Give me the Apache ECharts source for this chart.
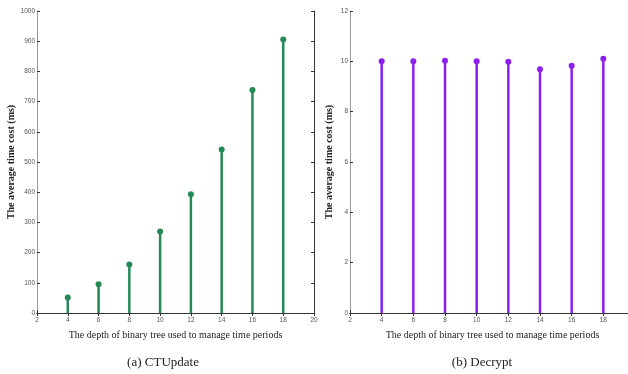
<!DOCTYPE html>
<html><head><meta charset="utf-8">
<script src="https://cdn.jsdelivr.net/npm/echarts@6/dist/echarts.min.js"></script>
<style>html,body{margin:0;padding:0;background:#fff}#c{width:628px;height:374px}</style>
</head><body><div id="c"></div>
<script>
const depths = [4, 6, 8, 10, 12, 14, 16, 18];
const ctUpdate = [51, 95, 161, 270, 393, 541, 738, 906];
const decrypt = [10.0, 10.0, 10.02, 10.0, 9.98, 9.69, 9.82, 10.1];
const xTitle = 'The depth of binary tree used to manage time periods';
const yTitle = 'The average time cost (ms)';
const captions = ['(a) CTUpdate', '(b) Decrypt'];

const green = '#238a55', purple = '#8a1ff0';
const serif = 'Liberation Serif';
const tickLbl = {fontSize: 6.5, color: '#555', fontFamily: 'Liberation Sans', formatter: v => String(v)};

function xAx(gi) {
  return {type: 'value', gridIndex: gi, min: 2, max: 20, interval: 2,
    position: 'bottom',
    axisLine: {show: true, onZero: false, lineStyle: {color: '#111', width: 1}},
    axisTick: {show: true, inside: true, length: 3, lineStyle: {color: '#333'}},
    axisLabel: Object.assign({margin: 4}, tickLbl),
    splitLine: {show: false},
    name: xTitle, nameLocation: 'middle', nameGap: 17,
    nameTextStyle: {fontFamily: serif, fontSize: 10, color: '#222'}};
}
function xTop(gi) {
  return {type: 'value', gridIndex: gi, min: 2, max: 20, interval: 2, position: 'top',
    axisLine: {show: true, lineStyle: {color: '#333'}},
    axisTick: {show: true, inside: true, length: 3, lineStyle: {color: '#333'}},
    axisLabel: {show: false}, splitLine: {show: false}};
}
function yAx(gi, max, interval) {
  return {type: 'value', gridIndex: gi, min: 0, max: max, interval: interval,
    axisLine: {show: true, lineStyle: {color: '#999'}},
    axisTick: {show: true, inside: true, length: 3, lineStyle: {color: '#333'}},
    axisLabel: Object.assign({margin: 2}, tickLbl),
    splitLine: {show: false},
    name: yTitle, nameLocation: 'middle', nameGap: 16,
    nameTextStyle: {fontFamily: serif, fontSize: 10, fontWeight: 'bold', color: '#222'}};
}
function yRight(gi, max, interval) {
  return {type: 'value', gridIndex: gi, min: 0, max: max, interval: interval, position: 'right',
    axisLine: {show: true, lineStyle: {color: '#333'}},
    axisTick: {show: true, inside: true, length: 3, lineStyle: {color: '#333'}},
    axisLabel: {show: false}, splitLine: {show: false}};
}
const pairs = (ys) => depths.map((d, i) => [d, ys[i]]);

const chart = echarts.init(document.getElementById('c'));
chart.setOption({
  animation: false,
  grid: [
    {left: 37, width: 277, top: 11, height: 302, outerBoundsMode: 'none', containLabel: false},
    {left: 350, width: 285, top: 11, height: 302, outerBoundsMode: 'none', containLabel: false}
  ],
  xAxis: [xAx(0), xAx(1), xTop(0), xTop(1)],
  yAxis: [yAx(0, 1000, 100), yAx(1, 12, 2), yRight(0, 1000, 100), yRight(1, 12, 2)],
  series: [
    {type: 'bar', xAxisIndex: 0, yAxisIndex: 0, data: pairs(ctUpdate), barWidth: 2.5, itemStyle: {color: green}},
    {type: 'scatter', xAxisIndex: 0, yAxisIndex: 0, data: pairs(ctUpdate), symbolSize: 6, itemStyle: {color: green, opacity: 1}},
    {type: 'bar', xAxisIndex: 1, yAxisIndex: 1, data: pairs(decrypt), barWidth: 2.5, itemStyle: {color: purple}},
    {type: 'scatter', xAxisIndex: 1, yAxisIndex: 1, data: pairs(decrypt), symbolSize: 6, itemStyle: {color: purple, opacity: 1}}
  ],
  graphic: [
    {type: 'text', x: 163, y: 363, style: {text: captions[0], fontFamily: serif, fontSize: 13, fill: '#222', align: 'center', verticalAlign: 'middle'}},
    {type: 'text', x: 482, y: 363, style: {text: captions[1], fontFamily: serif, fontSize: 13, fill: '#222', align: 'center', verticalAlign: 'middle'}}
  ]
});
</script></body></html>
